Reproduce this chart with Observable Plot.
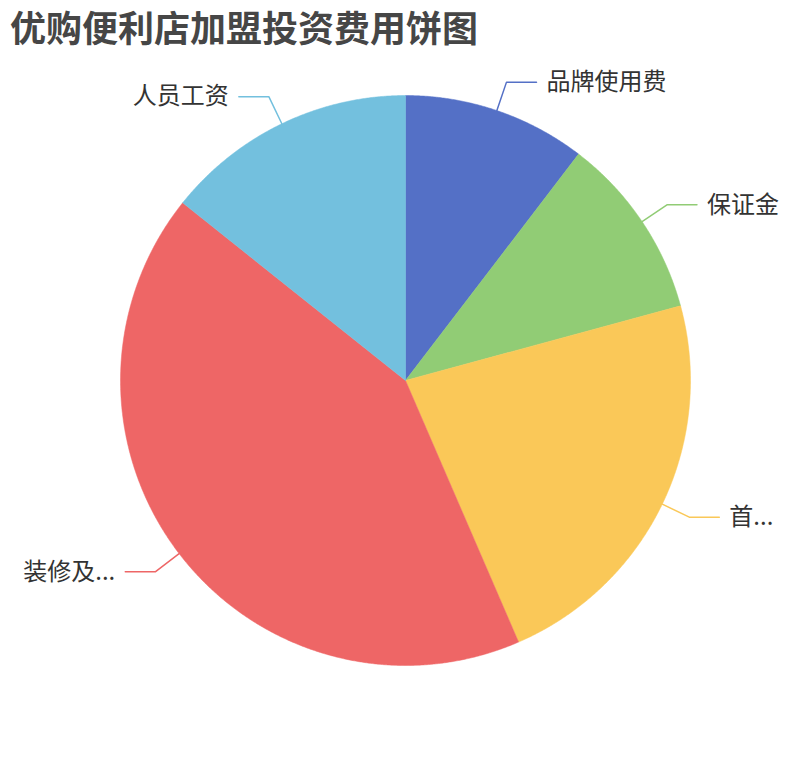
<!DOCTYPE html>
<html>
<head>
<meta charset="utf-8">
<script src="https://cdn.jsdelivr.net/npm/d3@7"></script>
<script src="https://cdn.jsdelivr.net/npm/@observablehq/plot@0.6"></script>
<style>
  html, body { margin: 0; padding: 0; background: #fff; }
  #wrap { width: 810px; height: 760px; position: relative; }
  #title { height: 56px; padding-left: 10px; box-sizing: border-box;
           font-family: "Noto Sans CJK SC", sans-serif; font-weight: bold;
           font-size: 36px; line-height: 52px; color: #464646; }
  svg { display: block; }
</style>
</head>
<body>
<div id="wrap">
  <div id="title">优购便利店加盟投资费用饼图</div>
  <div id="chart"></div>
</div>
<script>
// ---- data ----
const categories = ["品牌使用费", "保证金", "首批进货费", "装修及设备费", "人员工资"];
const labelTexts = ["品牌使用费", "保证金", "首...", "装修及...", "人员工资"];
const values = [8, 8, 17.5, 32.5, 11];
const colors = ["#5470c6", "#91cc75", "#fac858", "#ee6666", "#73c0de"];

// ---- layout (pixels) ----
const W = 810, H = 704;
const R = 285;            // pie radius in px
const CX = 405, CY = 324; // pie centre inside the svg
const seg1 = 30 / R, seg2 = 30 / R;

const arcs = d3.pie().sort(null).value(d => d.value)(
  categories.map((c, i) => ({ name: c, value: values[i], label: labelTexts[i], color: colors[i] }))
);

const pt = (a, r) => ({ x: Math.sin(a) * r, y: Math.cos(a) * r });

const slices = arcs.map(a => {
  const pts = [{ ...pt(0, 0) }];
  const n = Math.max(2, Math.ceil((a.endAngle - a.startAngle) / (Math.PI / 720)));
  for (let k = 0; k <= n; k++) {
    pts.push(pt(a.startAngle + (a.endAngle - a.startAngle) * k / n, 1));
  }
  pts.push(pt(0, 0));
  return { data: a.data, pts };
});

const leaders = arcs.map(a => {
  const mid = (a.startAngle + a.endAngle) / 2;
  const p0 = pt(mid, 1);
  const p1 = pt(mid, 1 + seg1);
  const right = p1.x >= 0;
  const p2 = { x: p1.x + (right ? seg2 : -seg2), y: p1.y };
  return { data: a.data, line: [p0, p1, p2], end: p2, right };
});

const marks = [];
slices.forEach(s => {
  marks.push(Plot.line(s.pts, { x: "x", y: "y", fill: s.data.color, stroke: s.data.color, strokeWidth: 0.5, curve: "linear" }));
});
leaders.forEach(l => {
  marks.push(Plot.line(l.line, { x: "x", y: "y", stroke: l.data.color, strokeWidth: 1.5 }));
  marks.push(Plot.text([l.end], {
    x: "x", y: "y", text: () => l.data.label,
    textAnchor: l.right ? "start" : "end",
    dx: l.right ? 10 : -10,
    fontSize: 24, fill: "#333",
    fontFamily: "Noto Sans CJK SC, sans-serif"
  }));
});

const chart = Plot.plot({
  width: W, height: H,
  marginTop: 0, marginBottom: 0, marginLeft: 0, marginRight: 0,
  x: { domain: [-CX / R, (W - CX) / R], axis: null },
  y: { domain: [-(H - CY) / R, CY / R], axis: null },
  style: { background: "#fff", overflow: "visible" },
  marks
});
document.getElementById("chart").appendChild(chart);
</script>
</body>
</html>
